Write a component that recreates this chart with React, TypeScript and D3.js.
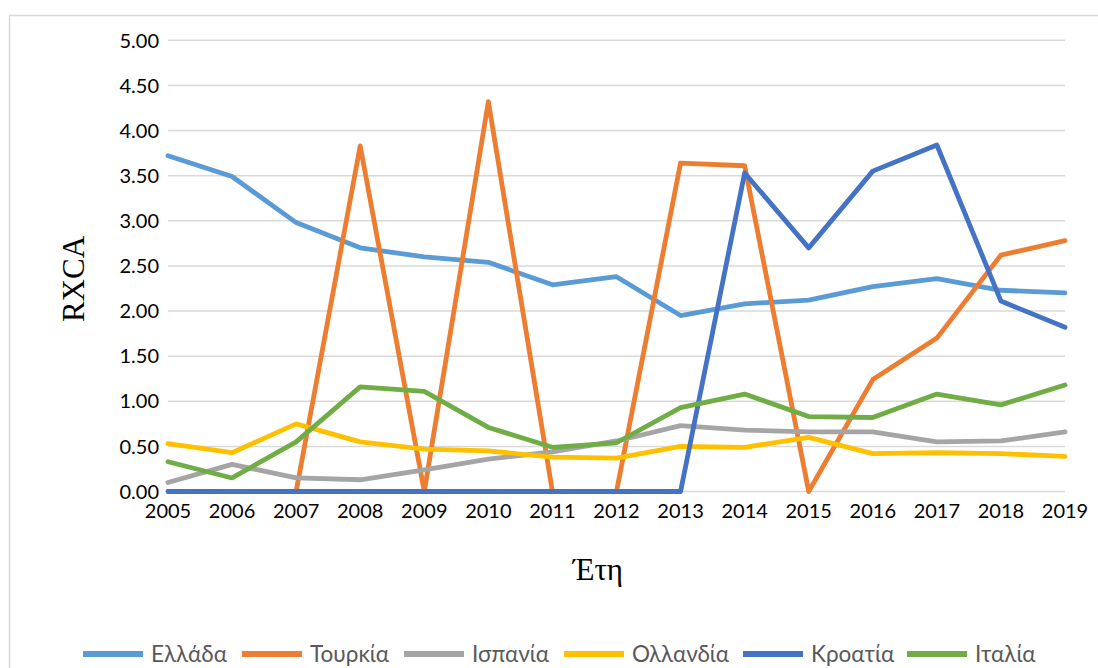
import React from 'react';
import * as d3 from 'd3';

const width = 1098;
const height = 668;

const years = [2005, 2006, 2007, 2008, 2009, 2010, 2011, 2012, 2013, 2014, 2015, 2016, 2017, 2018, 2019];
const yTicks = [0, 0.5, 1, 1.5, 2, 2.5, 3, 3.5, 4, 4.5, 5];

const ellada = [3.72, 3.49, 2.98, 2.70, 2.60, 2.54, 2.29, 2.38, 1.95, 2.08, 2.12, 2.27, 2.36, 2.23, 2.20];
const tourkia = [0, 0, 0, 3.83, 0, 4.32, 0, 0, 3.64, 3.61, 0, 1.24, 1.70, 2.62, 2.78];
const ispania = [0.10, 0.30, 0.15, 0.13, 0.24, 0.36, 0.44, 0.56, 0.73, 0.68, 0.66, 0.66, 0.55, 0.56, 0.66];
const ollandia = [0.53, 0.43, 0.75, 0.55, 0.47, 0.45, 0.38, 0.37, 0.50, 0.49, 0.60, 0.42, 0.43, 0.42, 0.39];
const kroatia = [0, 0, 0, 0, 0, 0, 0, 0, 0, 3.53, 2.70, 3.55, 3.84, 2.11, 1.82];
const italia = [0.33, 0.15, 0.55, 1.16, 1.11, 0.71, 0.49, 0.54, 0.93, 1.08, 0.83, 0.82, 1.08, 0.96, 1.18];

const series = [
  { name: 'Ελλάδα', color: '#5B9BD5', values: ellada },
  { name: 'Τουρκία', color: '#ED7D31', values: tourkia },
  { name: 'Ισπανία', color: '#A5A5A5', values: ispania },
  { name: 'Ολλανδία', color: '#FFC000', values: ollandia },
  { name: 'Κροατία', color: '#4472C4', values: kroatia },
  { name: 'Ιταλία', color: '#70AD47', values: italia }
];

// legend sample start x for each entry
const legendX = [83, 242, 404, 564, 743, 907];

const x = d3.scaleLinear().domain([2005, 2019]).range([168, 1065]);
const y = d3.scaleLinear().domain([0, 5]).range([491.5, 40.3]);

const line = d3
  .line<number>()
  .x((d, i) => x(years[i]))
  .y(d => y(d));

const font = 'Lato, "Open Sans", sans-serif';
const serif = '"Liberation Serif", "DejaVu Serif", serif';

export default function App() {
  return (
    <svg
      width={width}
      height={height}
      style={{ position: 'absolute', left: 0, top: 0, background: '#fff' }}
    >
      <rect x={9.5} y={15.5} width={1200} height={700} fill="#fff" stroke="#d9d9d9" strokeWidth={1.5} />

      {yTicks.map(t => (
        <g key={t}>
          <line x1={168} x2={1065} y1={y(t)} y2={y(t)} stroke="#d9d9d9" strokeWidth={1.5} />
          <text x={159} y={y(t)} dy="0.36em" textAnchor="end" fontFamily={font} fontSize={20} fill="#000">
            {t.toFixed(2)}
          </text>
        </g>
      ))}

      {years.map(yr => (
        <text key={yr} x={x(yr)} y={518} textAnchor="middle" fontFamily={font} fontSize={20} fill="#000">
          {yr}
        </text>
      ))}

      {series.map(s => (
        <path
          key={s.name}
          d={line(s.values) || ''}
          fill="none"
          stroke={s.color}
          strokeWidth={4.8}
          strokeLinejoin="round"
          strokeLinecap="round"
        />
      ))}

      <text transform="translate(84, 279) rotate(-90)" textAnchor="middle" fontFamily={serif} fontSize={31} fill="#000">
        RXCA
      </text>
      <text x={598} y={580} textAnchor="middle" fontFamily={serif} fontSize={31} fill="#000">
        Έτη
      </text>

      {series.map((s, i) => (
        <g key={s.name} transform={`translate(${legendX[i]}, 654)`}>
          <line x1={0} x2={60} y1={0} y2={0} stroke={s.color} strokeWidth={6} />
          <text x={68} y={0} dy="0.36em" fontFamily={font} fontSize={22.5} fill="#595959">
            {s.name}
          </text>
        </g>
      ))}
    </svg>
  );
}
